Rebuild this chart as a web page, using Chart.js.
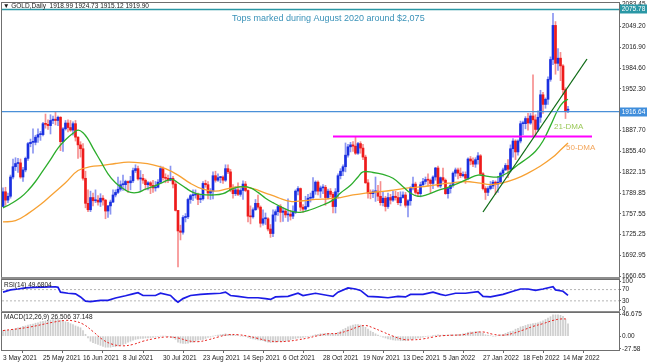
<!DOCTYPE html>
<html>
<head>
<meta charset="utf-8">
<title>GOLD Daily</title>
<script src="https://cdn.jsdelivr.net/npm/chart.js@4.4.1/dist/chart.umd.min.js"></script>
<style>
  html, body { margin: 0; padding: 0; background: #fff; }
  #wrap { position: relative; width: 648px; height: 364px; overflow: hidden; }
  #wrap canvas { position: absolute; left: 0; }
</style>
</head>
<body>
<div id="wrap">
  <canvas id="main" width="648" height="280" style="top:0"></canvas>
  <canvas id="rsi" width="648" height="37" style="top:276px"></canvas>
  <canvas id="macd" width="648" height="53" style="top:311px"></canvas>
</div>
<script>
// one bar per trading day, bar 0 = 3 May 2021 ... bar 226 = 16 Mar 2022 (one row per week)
const opens = [
  1769,1792,1779,1785,1815, 1831,1836,1837,1815,1826, 1844,1867,1869,1869,1877, 1881,1881,1898,1897,1895,
  1903,1905,1903,1908,1870, 1890,1899,1892,1888,1898, 1877,1865,1859,1813,1774, 1764,1783,1778,1779,1776,
  1782,1779,1762,1770,1776, 1787,1791,1796,1803,1803, 1808,1806,1809,1825,1828, 1812,1813,1810,1803,1806,
  1802,1798,1799,1807,1828, 1814,1813,1810,1813,1804, 1763,1731,1729,1752,1753, 1780,1786,1787,1788,1780,
  1781,1805,1803,1790,1793, 1817,1810,1814,1815,1810, 1828,1823,1795,1789,1795, 1788,1794,1804,1794,1754,
  1753,1764,1774,1768,1743, 1750,1750,1734,1727,1756, 1761,1769,1760,1762,1756, 1757,1754,1760,1793,1797,
  1768,1765,1769,1782,1783, 1793,1807,1793,1798,1799, 1783,1793,1788,1769,1792, 1817,1824,1831,1849,1862,
  1865,1863,1852,1867,1860, 1846,1806,1790,1789,1792, 1793,1785,1775,1782,1769, 1783,1779,1785,1783,1775,
  1783,1787,1771,1778,1798, 1804,1791,1789,1803, 1808,1811,1810,1805,1815, 1829,1801,1814,1810,1789,
  1797,1802,1821,1826,1821, 1817,1819,1813,1843,1840, 1835,1842,1848,1820,1797, 1791,1797,1801,1807,1804,
  1807,1821,1826,1833,1827, 1859,1871,1854,1871,1898, 1898,1906,1899,1910,1904, 1889,1908,1943,1928,1936,
  1967,1998,2051,1992,2000, 1988,1951,1919
];
const highs = [
  1798,1799,1790,1818,1843, 1845,1844,1843,1830,1846, 1869,1874,1890,1880,1890, 1886,1900,1913,1904,1912,
  1910,1916,1910,1909,1892, 1903,1904,1903,1901,1903, 1878,1870,1867,1824,1795, 1793,1790,1795,1786,1789,
  1786,1780,1771,1779,1795, 1795,1815,1809,1818,1810, 1809,1816,1829,1834,1832, 1825,1819,1812,1808,1808,
  1810,1808,1811,1832,1831, 1820,1818,1832,1816,1808, 1763,1740,1755,1758,1782, 1788,1795,1795,1790,1788,
  1808,1810,1808,1797,1823, 1824,1820,1816,1817,1834, 1834,1827,1803,1800,1806, 1797,1809,1808,1795,1770,
  1767,1780,1787,1770,1764, 1759,1752,1741,1764,1764, 1770,1772,1767,1765,1781, 1763,1770,1795,1800,1798,
  1772,1785,1788,1790,1814, 1809,1809,1801,1803,1802, 1796,1797,1791,1797,1820, 1828,1834,1868,1866,1869,
  1870,1877,1869,1870,1866, 1849,1811,1795,1795,1815, 1802,1808,1792,1785,1790, 1788,1793,1793,1791,1792,
  1792,1791,1780,1800,1815, 1807,1795,1807,1813, 1815,1820,1812,1817,1830, 1832,1815,1829,1812,1799,
  1805,1823,1829,1829,1829, 1823,1823,1845,1847,1845, 1845,1853,1850,1822,1800, 1800,1808,1810,1809,1816,
  1823,1829,1836,1842,1865, 1875,1873,1873,1902,1902, 1909,1914,1914,1974,1912, 1918,1950,1947,1938,1971,
  2002,2070,2057,2015,2009, 1990,1954,1925
];
const lows = [
  1769,1771,1775,1782,1812, 1825,1822,1813,1808,1823, 1841,1862,1852,1865,1869, 1872,1879,1891,1889,1882,
  1898,1896,1895,1856,1855, 1888,1885,1886,1880,1871, 1844,1846,1810,1767,1761, 1761,1770,1775,1771,1769,
  1771,1750,1752,1757,1775, 1784,1789,1793,1794,1795, 1791,1795,1806,1822,1810, 1794,1805,1795,1795,1789,
  1791,1793,1798,1805,1810, 1806,1806,1809,1798,1762, 1675,1717,1726,1745,1750, 1774,1778,1782,1772,1775,
  1779,1799,1781,1780,1781, 1807,1808,1806,1805,1808, 1820,1792,1782,1786,1786, 1785,1780,1792,1745,1742,
  1751,1763,1765,1737,1740, 1741,1731,1721,1722,1746, 1755,1745,1746,1752,1746, 1748,1750,1758,1787,1762,
  1760,1763,1768,1776,1780, 1788,1787,1783,1789,1771, 1781,1784,1759,1759,1782, 1812,1817,1823,1846,1854,
  1855,1850,1850,1852,1842, 1805,1782,1781,1783,1777, 1778,1771,1770,1762,1766, 1773,1777,1779,1772,1770,
  1782,1768,1753,1771,1795, 1788,1785,1784,1800, 1804,1801,1790,1797,1810, 1799,1798,1807,1788,1782,
  1790,1799,1816,1812,1814, 1815,1805,1811,1834,1831, 1830,1835,1818,1795,1780, 1786,1795,1797,1788,1791,
  1805,1815,1825,1814,1823, 1846,1842,1849,1868,1881, 1890,1888,1897,1878,1878, 1886,1900,1914,1922,1928,
  1964,1990,1975,1981,1965, 1943,1906,1915
];
const closes = [
  1792,1779,1785,1815,1831, 1836,1837,1815,1826,1844, 1867,1869,1869,1877,1881, 1881,1898,1897,1895,1903,
  1905,1903,1908,1870,1890, 1899,1892,1888,1898,1877, 1865,1859,1813,1774,1764, 1783,1778,1779,1776,1782,
  1779,1762,1770,1776,1787, 1791,1796,1803,1803,1808, 1806,1809,1825,1828,1812, 1813,1810,1803,1806,1802,
  1798,1799,1807,1828,1814, 1813,1810,1813,1804,1763, 1731,1729,1752,1753,1780, 1786,1787,1788,1780,1781,
  1805,1803,1790,1793,1817, 1810,1814,1815,1810,1828, 1823,1795,1789,1795,1788, 1794,1804,1794,1754,1753,
  1764,1774,1768,1743,1750, 1750,1734,1727,1756,1761, 1769,1760,1762,1756,1757, 1754,1760,1793,1797,1768,
  1765,1769,1782,1783,1793, 1807,1793,1798,1799,1783, 1793,1788,1769,1792,1817, 1824,1831,1849,1862,1865,
  1863,1852,1867,1860,1846, 1806,1790,1789,1792,1793, 1785,1775,1782,1769,1783, 1779,1785,1783,1775,1783,
  1787,1771,1778,1798,1804, 1791,1789,1803,1808, 1811,1810,1805,1815,1829, 1801,1814,1810,1789,1797,
  1802,1821,1826,1821,1817, 1819,1813,1843,1840,1835, 1842,1848,1820,1797,1791, 1797,1801,1807,1804,1807,
  1821,1826,1833,1827,1859, 1871,1854,1871,1898,1898, 1906,1899,1910,1904,1889, 1908,1943,1928,1936,1967,
  1998,2051,1992,2000,1988, 1951,1918,1920
];

// moving averages: [bar, price]
const ma21 = [
  [0,1767],[3,1773],[7,1783],[10,1794],[13,1808],[16,1825],[19,1842],[22,1860],[25,1873],[28,1883],
  [30,1888],[32,1884],[34,1874],[36,1860],[39,1840],[42,1820],[45,1806],[48,1797],[51,1791],[54,1791],
  [57,1796],[60,1800],[63,1805],[66,1810],[68,1811],[70,1806],[73,1798],[76,1791],[79,1788],[84,1787],
  [88,1789],[92,1797],[96,1800],[99,1798],[102,1791],[105,1782],[108,1775],[112,1767],[116,1761],[119,1760],
  [123,1764],[127,1770],[132,1779],[135,1790],[139,1802],[142,1815],[144,1823],[148,1822],[152,1819],[156,1813],
  [160,1800],[163,1790],[166,1785],[170,1788],[174,1794],[178,1799],[182,1805],[186,1812],[190,1818],[194,1816],
  [198,1815],[202,1822],[206,1834],[210,1845],[213,1855],[216,1871],[219,1895],[222,1920],[224,1931],[226,1936]
];
const ma50 = [
  [0,1745],[5,1747],[10,1758],[15,1772],[20,1789],[25,1806],[30,1825],[35,1831],[40,1833],[45,1836],
  [50,1838],[55,1837],[60,1834],[65,1828],[70,1818],[75,1805],[80,1796],[85,1793],[90,1797],[95,1800],
  [100,1797],[105,1790],[110,1783],[115,1777],[120,1778],[125,1780],[130,1781],[135,1783],[140,1787],[145,1790],
  [150,1792],[155,1794],[160,1797],[165,1799],[170,1801],[175,1804],[180,1806],[185,1808],[190,1806],[195,1803],
  [200,1806],[205,1812],[210,1821],[215,1832],[220,1846],[223,1857],[226,1868]
];

// RSI(14): [bar, value]
const rsi = [
  [0,61],[3,69],[6,72],[9,76],[12,78],[16,79],[21,80],[22,78],[23,61],[26,57],[29,55],[31,44],[33,29],[35,27],
  [39,32],[42,32],[45,40],[49,48],[52,55],[54,59],[56,49],[61,49],[63,57],[67,49],[69,32],[70,25],[72,38],
  [75,49],[79,53],[82,55],[87,57],[89,61],[91,49],[94,46],[98,41],[102,41],[105,38],[107,35],[109,44],
  [114,46],[118,57],[120,49],[125,57],[130,49],[132,46],[134,61],[138,76],[141,72],[143,67],[146,46],
  [150,44],[154,41],[158,46],[161,44],[163,53],[168,53],[172,61],[175,53],[177,49],[181,57],[185,57],
  [190,63],[192,46],[195,44],[200,53],[204,64],[207,72],[210,72],[213,67],[216,72],[220,80],[221,69],
  [224,64],[226,49.68]
];

// MACD(12,26,9) main value, one per bar
const macdHist = [
  12,13,13,13,14, 16,18,19,21,22, 24,25,26,28,29, 31,32,33,34,35,
  36,36,36,34,32, 31,30,27,25,22, 20,18,12,4,-4, -11,-14,-16,-18,-20,
  -22,-24,-24,-24,-23, -23,-21,-20,-18,-16, -13,-11,-9,-7,-6, -5,-5,-4,-4,-3,
  -3,-2,-1,0,0, 0,-1,-2,-4,-7, -13,-15,-16,-16,-15, -14,-13,-11,-9,-8,
  -7,-5,-3,-2,0, 1,2,3,4,5, 4,3,3,2,1, 0,0,-1,-3,-5,
  -6,-7,-8,-9,-10, -12,-13,-14,-13,-13, -12,-12,-11,-11,-10, -8,-6,-5,-4,-4,
  -3,-2,-1,0,1, 3,4,5,5,6, 6,5,5,6,8, 11,14,17,20,22,
  24,25,25,24,23, 19,15,11,8,5, 2,0,-2,-4,-6, -7,-8,-9,-9,-10,
  -10,-10,-9,-7,-6, -5,-4,-3,-2, -1,0,0,1,2, 3,2,2,2,2,
  3,3,3,4,4, 5,6,8,9,9, 10,10,9,6,3, 2,1,0,0,1,
  3,4,6,8,10, 11,15,17,20,21, 23,25,26,27,28, 29,31,33,36,39,
  42,46,46,46,45, 43,36,26.5
];
// signal line: [bar, value]
const macdSignal = [
  [0,12],[10,19],[20,30],[25,34],[28,33],[32,26],[36,10],[40,-8],[44,-18],[48,-21],[52,-18],[56,-11],
  [60,-6],[65,-2],[70,-4],[74,-10],[78,-12],[82,-8],[86,-2],[90,3],[94,3],[98,0],[102,-5],[106,-10],
  [110,-12],[114,-11],[118,-8],[122,-4],[126,1],[130,5],[134,6],[138,12],[142,20],[145,23],[148,18],
  [152,9],[156,0],[160,-7],[164,-8],[168,-6],[172,-2],[176,1],[180,2],[184,3],[188,7],[192,9],[196,4],
  [200,2],[204,6],[208,13],[212,21],[216,27],[220,34],[223,37],[226,37.148]
];

const dateTickBars = [0, 16, 32, 48, 64, 80, 96, 112, 128, 144, 160, 176, 192, 208, 224];
const dateLabels = ['3 May 2021', '25 May 2021', '16 Jun 2021', '8 Jul 2021', '30 Jul 2021', '23 Aug 2021',
  '14 Sep 2021', '6 Oct 2021', '28 Oct 2021', '19 Nov 2021', '13 Dec 2021', '5 Jan 2022', '27 Jan 2022',
  '18 Feb 2022', '14 Mar 2022'];
// 1920.00 sits under the 1916.64 tag, so it is left out
const priceTicks = [2083.45, 2049.20, 2016.90, 1984.60, 1952.30, 1887.70, 1855.40, 1822.15,
  1789.85, 1757.55, 1725.25, 1692.95, 1660.65];
const rsiTicks = [100, 70, 30, 0];
const rsiLevels = [70, 30];
const macdTicks = [46.675, 0, -27.58];
const macdTickLabels = ['46.675', '0.00', '-27.58'];

const topLevel = 2075.78;      // Aug 2020 tops
const lastLevel = 1916.64;
const supportLine = [[132, 1878], [235.6, 1878]];
const trendLine = [[192, 1760.5], [233.6, 1998.7]];

const FONT = "'Liberation Sans', 'DejaVu Sans', sans-serif";
const X_MIN = -0.4, X_MAX = 246.4;
const AXIS_W = 29;
const UP = '#1a30e0', DOWN = '#ee1b1b';
const UP_WICK = 'rgba(40,60,230,0.55)', DOWN_WICK = 'rgba(238,30,30,0.5)';

const pts = arr => arr.map(([x, y]) => ({ x, y }));
const isUp = i => closes[i] >= opens[i];

function xAxis(show) {
  return { type: 'linear', min: X_MIN, max: X_MAX, offset: false, display: show };
}
function yAxis(min, max, ticks, fmt) {
  return {
    position: 'right', min, max,
    afterFit: s => { s.width = AXIS_W; s.paddingTop = 0; s.paddingBottom = 0; },
    afterBuildTicks: s => { s.ticks = ticks.map(v => ({ value: v })); },
    ticks: { callback: fmt, autoSkip: false, padding: 1, color: '#222', font: { family: FONT, size: 6.5 } },
    grid: { drawOnChartArea: false, tickLength: 2, color: '#666' },
    border: { display: false }
  };
}
// panel frame + grey separator band above the panel
function frame(band) {
  return {
    id: 'frame',
    beforeDatasetsDraw(chart) {
      const { ctx, chartArea: a } = chart;
      ctx.save();
      if (band) {
        ctx.fillStyle = '#8e8e8e';
        ctx.fillRect(1, a.top - band, a.right, band);
      }
      ctx.strokeStyle = '#6f6f6f';
      ctx.lineWidth = 1;
      ctx.strokeRect(a.left - 0.5, a.top - 0.5, a.width + 1, a.height + 1);
      ctx.restore();
    }
  };
}
function label(text, x, y) {
  return {
    id: 'label',
    afterDraw(chart) {
      const ctx = chart.ctx;
      ctx.save();
      ctx.font = `6.5px ${FONT}`;
      ctx.fillStyle = '#1a1a1a';
      ctx.textBaseline = 'middle';
      ctx.fillText(text, x, y);
      ctx.restore();
    }
  };
}

const mainNotes = {
  id: 'mainNotes',
  afterDraw(chart) {
    const { ctx, chartArea: a, scales: { y } } = chart;
    ctx.save();
    ctx.textBaseline = 'middle';
    ctx.font = `6.5px ${FONT}`;
    ctx.fillStyle = '#1a1a1a';
    ctx.fillText('\u25BC GOLD,Daily  1918.99 1924.73 1915.12 1919.90', 3, 6);

    ctx.font = `9px ${FONT}`;
    ctx.fillStyle = '#3a92b8';
    ctx.fillText('Tops marked during August 2020 around $2,075', 232, 18.5);

    ctx.font = `8px ${FONT}`;
    ctx.fillStyle = '#9cc95a';
    ctx.fillText('21-DMA', 554, 127);
    ctx.fillStyle = '#f3a55a';
    ctx.fillText('50-DMA', 566, 148);

    // price tags on the axis
    [[topLevel, '#2a97a5'], [lastLevel, '#3f8ddb']].forEach(([v, c]) => {
      const py = Math.round(y.getPixelForValue(v));
      ctx.fillStyle = c;
      ctx.fillRect(a.right + 1, py - 4.5, 27, 9);
      ctx.fillStyle = '#fff';
      ctx.font = `6.5px ${FONT}`;
      ctx.textAlign = 'center';
      ctx.fillText(v.toFixed(2), a.right + 14.5, py + 0.5);
      ctx.textAlign = 'left';
    });
    ctx.restore();
  }
};

const common = {
  responsive: false,
  animation: false,
  events: [],
  plugins: { legend: { display: false }, tooltip: { enabled: false } }
};

// ---- price panel ----
new Chart(document.getElementById('main'), {
  type: 'bar',
  data: {
    datasets: [
      { type: 'line', data: pts(trendLine), borderColor: '#0d6a14', borderWidth: 1.3, pointRadius: 0, order: 0 },
      { type: 'line', data: pts(supportLine), borderColor: '#ff00ff', borderWidth: 2, pointRadius: 0, order: 0 },
      { type: 'line', data: pts([[X_MIN, topLevel], [X_MAX, topLevel]]), borderColor: '#2a97a5', borderWidth: 1.3, pointRadius: 0, order: 0 },
      { type: 'line', data: pts([[X_MIN, lastLevel], [X_MAX, lastLevel]]), borderColor: '#4a90d8', borderWidth: 1.3, pointRadius: 0, order: 0 },
      { type: 'line', data: pts(ma21), borderColor: '#2bad2b', borderWidth: 1.3, pointRadius: 0, tension: 0.4, order: 1 },
      { type: 'line', data: pts(ma50), borderColor: '#f7a133', borderWidth: 1.3, pointRadius: 0, tension: 0.4, order: 1 },
      {
        type: 'bar', data: opens.map((o, i) => ({ x: i, y: [o, closes[i]] })),
        barThickness: 2, minBarLength: 1, grouped: false, order: 5,
        backgroundColor: c => isUp(c.dataIndex) ? UP : DOWN
      },
      {
        type: 'bar', data: lows.map((l, i) => ({ x: i, y: [l, highs[i]] })),
        barThickness: 1, grouped: false, order: 6,
        backgroundColor: c => isUp(c.dataIndex) ? UP_WICK : DOWN_WICK
      }
    ]
  },
  options: {
    ...common,
    layout: { padding: { left: 2, right: 0, top: 3, bottom: 3 } },
    scales: {
      x: xAxis(false),
      y: yAxis(1659.3, 2085.9, priceTicks, v => v.toFixed(2))
    }
  },
  plugins: [frame(0), mainNotes]
});

// ---- RSI panel ----
new Chart(document.getElementById('rsi'), {
  type: 'line',
  data: {
    datasets: [
      { data: pts(rsi), borderColor: '#1b1be6', borderWidth: 1.7, pointRadius: 0 },
      ...rsiLevels.map(v => ({
        data: pts([[X_MIN, v], [X_MAX, v]]), borderColor: '#b5b5b5', borderWidth: 1, borderDash: [2, 2], pointRadius: 0
      }))
    ]
  },
  options: {
    ...common,
    layout: { padding: { left: 2, right: 0, top: 4, bottom: 2 } },
    scales: {
      x: xAxis(false),
      y: yAxis(-6, 104, rsiTicks, v => String(v))
    }
  },
  plugins: [frame(3), label('RSI(14) 49.6804', 4, 285.5 - 276)]
});

// ---- MACD panel ----
new Chart(document.getElementById('macd'), {
  type: 'bar',
  data: {
    datasets: [
      { type: 'line', data: pts(macdSignal), borderColor: '#e8231f', borderWidth: 1, borderDash: [2, 2], pointRadius: 0, tension: 0.4, order: 0 },
      { type: 'bar', data: macdHist.map((v, i) => ({ x: i, y: v })), barThickness: 1, grouped: false, backgroundColor: '#cdcdcd', order: 1 }
    ]
  },
  options: {
    ...common,
    layout: { padding: { left: 2, right: 0, top: 2, bottom: 1 } },
    scales: {
      x: {
        ...xAxis(true),
        position: 'bottom',
        afterFit: s => { s.height = 13; s.paddingLeft = 0; s.paddingRight = 0; },
        afterBuildTicks: s => { s.ticks = dateTickBars.map(v => ({ value: v })); },
        ticks: {
          callback: (v, i) => dateLabels[i], autoSkip: false, maxRotation: 0, align: 'start',
          padding: 1, color: '#222', font: { family: FONT, size: 6.5 }
        },
        grid: { drawOnChartArea: false, tickLength: 3, color: '#666' },
        border: { display: false }
      },
      y: yAxis(-30, 50, macdTicks, (v, i) => macdTickLabels[i])
    }
  },
  plugins: [frame(2), label('MACD(12,26,9) 26.506 37.148', 4, 6)]
});
</script>
</body>
</html>
